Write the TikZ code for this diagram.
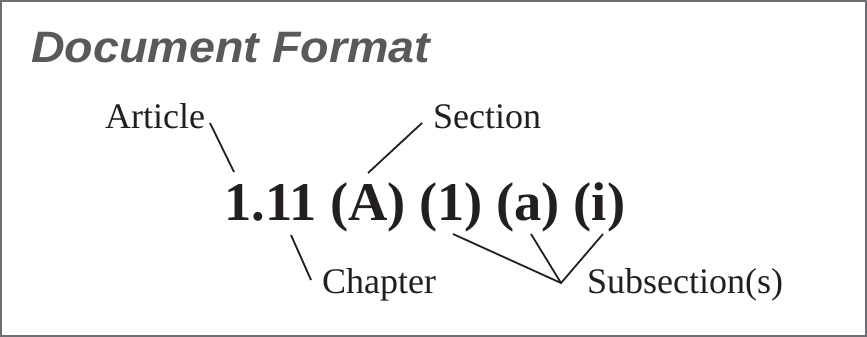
\documentclass[tikz,border=0pt]{standalone}
\usepackage{fontspec}
\setmainfont{Liberation Serif}
\newfontfamily\titlefont{Liberation Sans}
\definecolor{titlegray}{HTML}{58595B}
\definecolor{ink}{HTML}{231F20}
\definecolor{framegray}{HTML}{6D6E71}
\tikzset{
  lbl/.style={inner sep=0pt, anchor=base west, text=ink, font=\fontsize{36}{40}\selectfont},
  conn/.style={draw=ink, line width=1.8pt},
}
\begin{document}
\begin{tikzpicture}[x=1pt,y=-1pt]
\useasboundingbox (0,0) rectangle (867,337);
\draw[framegray, line width=1.6pt] (1,1) rectangle (866,336);
\node[inner sep=0pt, anchor=base west, text=titlegray, xscale=1.06, transform shape,
  font=\titlefont\bfseries\itshape\fontsize{44}{48}\selectfont] (title) at (31,63) {Document Format};
\node[lbl] (article) at (105,128) {Article};
\node[lbl] (section) at (433,128) {Section};
\node[lbl] (chapter) at (322,293) {Chapter};
\node[lbl] (subsec) at (587,293) {Subsection(s)};
\node[inner sep=0pt, anchor=base west, text=ink, font=\bfseries\fontsize{54.5}{58}\selectfont] (num) at (224,220) {1.11 (A) (1) (a) (i)};
\coordinate (a1) at (210,123);
\coordinate (a2) at (234,172);
\coordinate (s1) at (422,123);
\coordinate (s2) at (368,173);
\coordinate (c1) at (291,235);
\coordinate (c2) at (311,280);
\coordinate (u1) at (453,234);
\coordinate (u2) at (531,234);
\coordinate (u3) at (603,234);
\coordinate (uj) at (561,283);
\draw[conn] (a1) -- (a2);
\draw[conn] (s1) -- (s2);
\draw[conn] (c1) -- (c2);
\draw[conn, line join=miter] (u1) -- (uj) -- (u3);
\draw[conn] (u2) -- (uj);
\end{tikzpicture}
\end{document}
